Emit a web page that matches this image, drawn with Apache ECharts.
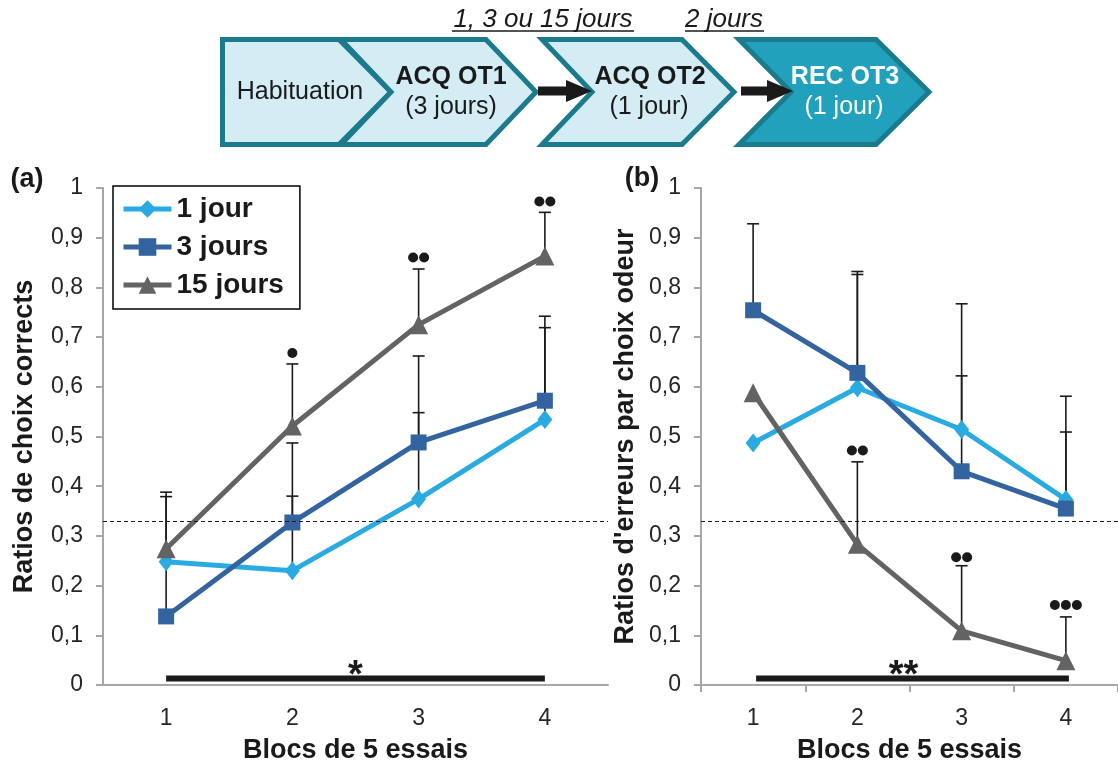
<!DOCTYPE html>
<html>
<head>
<meta charset="utf-8">
<script src="https://cdn.jsdelivr.net/npm/echarts@6/dist/echarts.min.js"></script>
<style>
html,body{margin:0;padding:0;background:#fff;}
#chart{width:1118px;height:769px;}
</style>
</head>
<body>
<div id="chart"></div>
<script>
// ---------- DATA ----------
const categories = ['1', '2', '3', '4'];
const seriesNames = ['1 jour', '3 jours', '15 jours'];

// Panel (a): Ratios de choix corrects
const a_1jour   = [0.248, 0.230, 0.374, 0.534];
const a_3jours  = [0.138, 0.327, 0.488, 0.572];
const a_15jours = [0.274, 0.521, 0.725, 0.863];
// upper ends of error bars (null = not visible)
const a_err_1jour   = [null, 0.380, 0.548, 0.719];
const a_err_3jours  = [0.379, 0.487, 0.662, 0.742];
const a_err_15jours = [0.388, 0.646, 0.837, 0.951];
// significance dots: [category index, y, number of dots]
const a_dots = [[1, 0.668, 1], [2, 0.860, 2], [3, 0.973, 2]];
const a_sig = { from: 0, to: 3, y: 0.013, label: '*' };

// Panel (b): Ratios d'erreurs par choix odeur
const b_1jour   = [0.487, 0.598, 0.514, 0.373];
const b_3jours  = [0.754, 0.628, 0.430, 0.355];
const b_15jours = [0.588, 0.283, 0.109, 0.049];
const b_err_1jour   = [null, 0.826, 0.767, 0.581];
const b_err_3jours  = [0.928, 0.832, 0.622, 0.509];
const b_err_15jours = [null, 0.449, 0.240, 0.137];
const b_dots = [[1, 0.472, 2], [2, 0.257, 2], [3, 0.161, 3]];
const b_sig = { from: 0, to: 3, y: 0.013, label: '**' };

const chanceLevel = 0.334;

// ---------- STYLE ----------
const FONT = '"Liberation Sans", Arial, sans-serif';
const colors = ['#29abe2', '#34649f', '#636363'];
const symbols = ['diamond', 'rect', 'triangle'];
const symbolSizes = [[15, 19], 16, 19];
const axisGray = '#a6a6a6';
const ink = '#1a1a1a';

function errData(means, ups) {
  return means.map((m, i) => ups[i] == null ? null : [i, m, ups[i]]).filter(Boolean);
}

function panelSeries(idx, vals, errs, dots, sig, sigShift) {
  const out = [];
  // error bars
  errs.forEach((e, k) => {
    out.push({
      type: 'custom', name: 'err' + idx + k, xAxisIndex: idx, yAxisIndex: idx, z: 2,
      silent: true, animation: false,
      data: errData(vals[k], e),
      renderItem: function (params, api) {
        const x = api.value(0);
        const p1 = api.coord([x, api.value(1)]);
        const p2 = api.coord([x, api.value(2)]);
        const st = { stroke: ink, lineWidth: 1.6 };
        return { type: 'group', children: [
          { type: 'line', shape: { x1: p1[0], y1: p1[1], x2: p2[0], y2: p2[1] }, style: st },
          { type: 'line', shape: { x1: p2[0] - 6, y1: p2[1], x2: p2[0] + 6, y2: p2[1] }, style: st }
        ]};
      }
    });
  });
  // lines
  vals.forEach((v, k) => {
    out.push({
      type: 'line', name: seriesNames[k], xAxisIndex: idx, yAxisIndex: idx, z: 3,
      data: v, symbol: symbols[k], symbolSize: symbolSizes[k], showAllSymbol: true,
      lineStyle: { width: 5, color: colors[k] }, itemStyle: { color: colors[k] },
      animation: false
    });
  });
  // dots
  out.push({
    type: 'custom', name: 'dots' + idx, xAxisIndex: idx, yAxisIndex: idx, z: 4,
    silent: true, animation: false, data: dots,
    renderItem: function (params, api) {
      const p = api.coord([api.value(0), api.value(1)]);
      const n = api.value(2);
      const children = [];
      for (let i = 0; i < n; i++) {
        children.push({ type: 'circle', shape: { cx: p[0] + (i - (n - 1) / 2) * 11, cy: p[1], r: 5 }, style: { fill: ink } });
      }
      return { type: 'group', children };
    }
  });
  // significance bar + chance line
  out.push({
    type: 'custom', name: 'sig' + idx, xAxisIndex: idx, yAxisIndex: idx, z: 4,
    silent: true, animation: false,
    data: [[sig.from, sig.to, sig.y]],
    renderItem: function (params, api) {
      const p1 = api.coord([api.value(0), api.value(2)]);
      const p2 = api.coord([api.value(1), api.value(2)]);
      const s = sigShift;
      return { type: 'group', children: [
        { type: 'line', shape: { x1: p1[0] + s, y1: p1[1], x2: p2[0] + s, y2: p2[1] }, style: { stroke: ink, lineWidth: 6 } },
        { type: 'text', x: (p1[0] + p2[0]) / 2 - 2 * s, y: p1[1] - 2,
          style: { text: sig.label, font: 'bold 38px ' + FONT, fill: ink, textAlign: 'center', textVerticalAlign: 'middle' } }
      ]};
    },
    markLine: {
      silent: true, symbol: ['none', 'none'], label: { show: false }, animation: false,
      lineStyle: { type: [4, 3], color: ink, width: 1.2 },
      data: [{ yAxis: chanceLevel }]
    }
  });
  return out;
}

function xAx(idx, ticks) {
  return {
    type: 'category', gridIndex: idx, data: categories, boundaryGap: true,
    axisLine: { show: true, lineStyle: { color: axisGray, width: 2 } },
    axisTick: { show: ticks, length: 7, lineStyle: { color: axisGray, width: 2 } },
    axisLabel: { fontSize: 23, color: '#262626', margin: 22, fontFamily: FONT },
    name: 'Blocs de 5 essais', nameLocation: 'middle', nameGap: 52,
    nameTextStyle: { fontSize: 27, fontWeight: 'bold', color: ink, fontFamily: FONT }
  };
}
function yAx(idx, name, gap) {
  return {
    type: 'value', gridIndex: idx, min: 0, max: 1, interval: 0.1,
    splitLine: { show: false },
    axisLine: { show: true, lineStyle: { color: axisGray, width: 2 } },
    axisTick: { show: true, length: 7, lineStyle: { color: axisGray, width: 2 } },
    axisLabel: { fontSize: 23, color: '#262626', margin: 20, fontFamily: FONT,
      formatter: v => String(Math.round(v * 10) / 10).replace('.', ',') },
    name: name, nameLocation: 'middle', nameRotate: 90, nameGap: gap,
    nameTextStyle: { fontSize: 27, fontWeight: 'bold', color: ink, fontFamily: FONT }
  };
}

// ---------- top diagram ----------
const teal = '#1b7a8b', light = '#d4edf5', dark = '#22a1bd';
function poly(points, fill) {
  return { type: 'polygon', shape: { points }, style: { fill, stroke: teal, lineWidth: 5, lineJoin: 'miter' }, z: 10 };
}
function txt(x, y, text, font, fill) {
  return { type: 'text', x, y, z: 12, style: { text, font, fill: fill || ink, textAlign: 'center', textVerticalAlign: 'middle' } };
}
function arrow(x0, xh, xt, yc) {
  return { type: 'polygon', z: 11, shape: { points: [[x0, yc - 4.5], [xh, yc - 4.5], [xh, yc - 11], [xt, yc], [xh, yc + 11], [xh, yc + 4.5], [x0, yc + 4.5]] }, style: { fill: ink } };
}
const R = '25px ' + FONT, B = 'bold 25px ' + FONT, I = 'italic 26px ' + FONT;
const graphics = [
  poly([[222.5, 39.5], [339, 39.5], [391, 92], [339, 144.5], [222.5, 144.5]], light),
  poly([[341, 39.5], [486, 39.5], [536, 92], [486, 144.5], [341, 144.5], [391, 92]], light),
  poly([[542, 39.5], [682, 39.5], [734, 92], [682, 144.5], [542, 144.5], [592, 92]], light),
  poly([[739, 39.5], [876, 39.5], [929, 92], [876, 144.5], [739, 144.5], [791, 92]], dark),
  arrow(538, 566, 592, 91),
  arrow(741, 767, 793, 91),
  txt(300, 92, 'Habituation', R),
  txt(451, 77, 'ACQ OT1', B), txt(451, 107, '(3 jours)', R),
  txt(650, 77, 'ACQ OT2', B), txt(649, 107, '(1 jour)', R),
  txt(845, 77, 'REC OT3', B, '#ffffff'), txt(844, 107, '(1 jour)', R, '#ffffff'),
  txt(543, 20, '1, 3 ou 15 jours', I), txt(724, 20, '2 jours', I),
  { type: 'line', z: 12, shape: { x1: 452, y1: 31, x2: 634, y2: 31 }, style: { stroke: ink, lineWidth: 1.6 } },
  { type: 'line', z: 12, shape: { x1: 685, y1: 31, x2: 764, y2: 31 }, style: { stroke: ink, lineWidth: 1.6 } },
  txt(27, 180, '(a)', 'bold 27px ' + FONT),
  txt(642, 179, '(b)', 'bold 27px ' + FONT)
];

const chart = echarts.init(document.getElementById('chart'), null, { renderer: 'canvas' });
chart.setOption({
  animation: false,
  backgroundColor: '#ffffff',
  textStyle: { fontFamily: FONT },
  grid: [
    { left: 103, top: 188, width: 505, height: 498 },
    { left: 701, top: 188, width: 421, height: 498 }
  ],
  xAxis: [xAx(0, false), xAx(1, true)],
  yAxis: [yAx(0, 'Ratios de choix corrects', 65), yAx(1, "Ratios d'erreurs par choix odeur", 62)],
  legend: {
    data: seriesNames, orient: 'vertical', left: 113, top: 186,
    itemWidth: 48, itemHeight: 22, itemGap: 10,
    padding: [9, 16, 10, 8],
    lineStyle: { width: 5 },
    borderColor: '#000', borderWidth: 1.5, backgroundColor: '#fff',
    selectedMode: false,
    textStyle: { fontSize: 28, fontWeight: 'bold', color: ink, fontFamily: FONT }
  },
  graphic: { elements: graphics },
  series: [].concat(
    panelSeries(0, [a_1jour, a_3jours, a_15jours], [a_err_1jour, a_err_3jours, a_err_15jours], a_dots, a_sig, 0),
    panelSeries(1, [b_1jour, b_3jours, b_15jours], [b_err_1jour, b_err_3jours, b_err_15jours], b_dots, b_sig, 3)
  )
});
</script>
</body>
</html>
